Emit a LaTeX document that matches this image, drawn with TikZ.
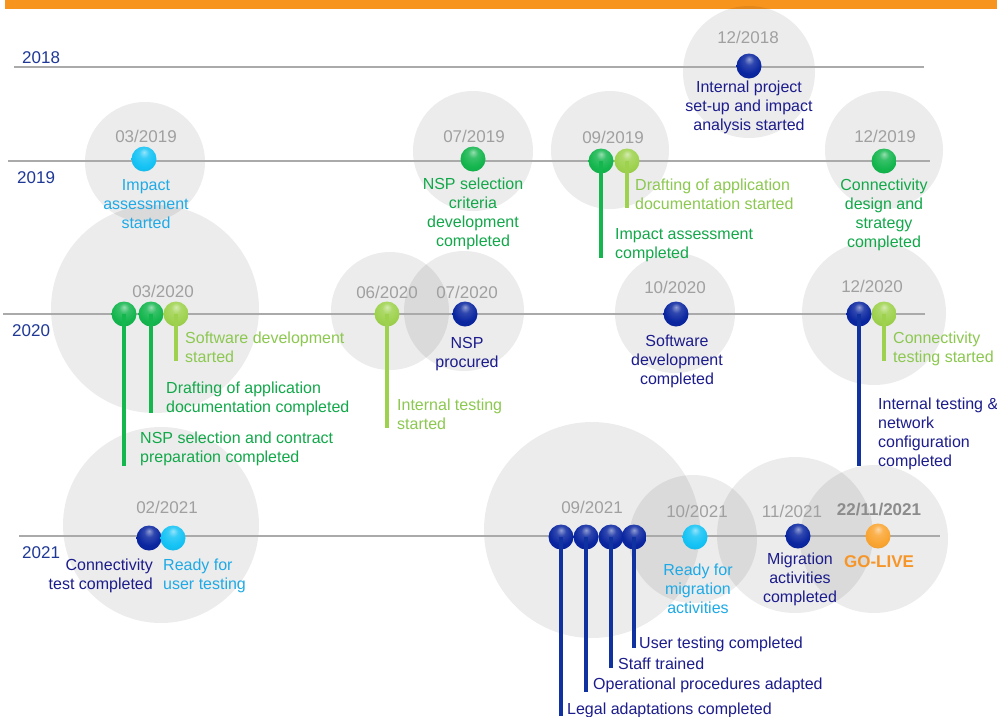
\documentclass[tikz,border=0pt]{standalone}
\usepackage{fontspec}
\setmainfont{Liberation Sans}
\definecolor{barorange}{RGB}{247,148,30}
\definecolor{linegrey}{RGB}{170,170,170}
\definecolor{yearblue}{RGB}{31,56,150}
\definecolor{dategrey}{RGB}{160,160,160}
\definecolor{dategreyd}{RGB}{140,140,140}
\definecolor{navyb}{RGB}{10,38,160}
\definecolor{navyt}{RGB}{28,28,140}
\definecolor{navys}{RGB}{15,50,160}
\definecolor{cyanb}{RGB}{20,195,245}
\definecolor{cyant}{RGB}{30,170,230}
\definecolor{greenb}{RGB}{20,182,78}
\definecolor{greent}{RGB}{18,168,74}
\definecolor{lgreenb}{RGB}{158,210,78}
\definecolor{lgreent}{RGB}{140,200,80}
\definecolor{orangeb}{RGB}{250,165,50}
\definecolor{oranget}{RGB}{247,150,40}
\makeatletter
\pgfdeclareradialshading[tikz@ball]{softball}{\pgfqpoint{0bp}{14bp}}{%
  color(0bp)=(tikz@ball!45!white); color(10bp)=(tikz@ball!85!white);
  color(24bp)=(tikz@ball); color(44bp)=(tikz@ball!90!black);
  color(64bp)=(tikz@ball!65!black)}
\makeatother
\tikzset{
  halo/.style={fill=black, fill opacity=0.075},
  tline/.style={draw=linegrey, line width=1.5pt},
  yr/.style={text=yearblue, font=\fontsize{17}{20}\selectfont, anchor=base west, inner sep=0pt},
  dt/.style={text=dategrey, font=\fontsize{17}{20}\selectfont, anchor=base, inner sep=0pt},
  lbl/.style={font=\fontsize{16}{19}\selectfont, inner sep=0pt, anchor=north, align=center},
  lbll/.style={font=\fontsize{16}{19}\selectfont, inner sep=0pt, anchor=north west, align=left},
  lblr/.style={font=\fontsize{16}{19}\selectfont, inner sep=0pt, anchor=north east, align=right},
  lbls/.style={font=\fontsize{16}{19}\selectfont, inner sep=0pt, anchor=base west},
  bead/.style={circle, inner sep=0pt, minimum size=25pt, ball color=#1, shading=softball},
  stemline/.style={line width=4pt, draw=#1},
}
\begin{document}
\begin{tikzpicture}[x=1pt,y=-1pt]
\useasboundingbox (0,0) rectangle (997,716);
\fill[white] (0,0) rectangle (997,716);
\fill[barorange] (5,0) rectangle (997,9);

% halos
\fill[halo] (749,72) circle (66pt);
\fill[halo] (145,162) circle (60pt);
\fill[halo] (473,151) circle (60pt);
\fill[halo] (610,150) circle (59pt);
\fill[halo] (884,150) circle (59pt);
\fill[halo] (155,309) circle (104pt);
\fill[halo] (390,311) circle (59pt);
\fill[halo] (464,311) circle (60pt);
\fill[halo] (675,313) circle (60pt);
\fill[halo] (874,313) circle (72pt);
\fill[halo] (161,525) circle (98pt);
\fill[halo] (592,530) circle (108pt);
\fill[halo] (693,539) circle (64pt);
\fill[halo] (795,535) circle (78pt);
\fill[halo] (874,539) circle (74pt);

% timelines
\coordinate (l18a) at (14,67);  \coordinate (l18b) at (924,67);
\coordinate (l19a) at (8,161);  \coordinate (l19b) at (930,161);
\coordinate (l20a) at (3,314);  \coordinate (l20b) at (925,314);
\coordinate (l21a) at (19,536); \coordinate (l21b) at (940,536);
\draw[tline] (l18a) -- (l18b);
\draw[tline] (l19a) -- (l19b);
\draw[tline] (l20a) -- (l20b);
\draw[tline] (l21a) -- (l21b);

\node[yr] (y18) at (22,63) {2018};
\node[yr] (y19) at (17,183) {2019};
\node[yr] (y20) at (12,336) {2020};
\node[yr] (y21) at (22,558) {2021};

% dates
\node[dt] (d1218) at (748,43) {12/2018};
\node[dt] (d0319) at (146,142) {03/2019};
\node[dt] (d0719) at (474,142) {07/2019};
\node[dt] (d0919) at (613,143) {09/2019};
\node[dt] (d1219) at (885,142) {12/2019};
\node[dt] (d0320) at (163,297) {03/2020};
\node[dt] (d0620) at (387,298) {06/2020};
\node[dt] (d0720) at (467,298) {07/2020};
\node[dt] (d1020) at (675,293) {10/2020};
\node[dt] (d1220) at (872,292) {12/2020};
\node[dt] (d0221) at (167,513) {02/2021};
\node[dt] (d0921) at (592,513) {09/2021};
\node[dt] (d1021) at (697,517) {10/2021};
\node[dt] (d1121) at (792,517) {11/2021};
\node[dt, text=dategreyd, font=\fontsize{17}{20}\selectfont\bfseries] (dgl) at (879,515) {22/11/2021};

% beads
\node[bead=navyb] (b1218) at (749,66) {};
\node[bead=cyanb] (b0319) at (144,159) {};
\node[bead=greenb] (b0719) at (473,159) {};
\node[bead=greenb] (b0919a) at (601,161) {};
\node[bead=lgreenb] (b0919b) at (627,161) {};
\node[bead=greenb] (b1219) at (884,161) {};
\node[bead=greenb] (b0320a) at (124,314) {};
\node[bead=greenb] (b0320b) at (151,314) {};
\node[bead=lgreenb] (b0320c) at (176,314) {};
\node[bead=lgreenb] (b0620) at (387,314) {};
\node[bead=navyb] (b0720) at (465,314) {};
\node[bead=navyb] (b1020) at (676,314) {};
\node[bead=navyb] (b1220a) at (859,314) {};
\node[bead=lgreenb] (b1220b) at (884,314) {};
\node[bead=navyb] (b0221a) at (149,538) {};
\node[bead=cyanb] (b0221b) at (173,538) {};
\node[bead=navyb] (b0921a) at (561,537) {};
\node[bead=navyb] (b0921b) at (586,537) {};
\node[bead=navyb] (b0921c) at (611,537) {};
\node[bead=navyb] (b0921d) at (634,537) {};
\node[bead=cyanb] (b1021) at (695,537) {};
\node[bead=navyb] (b1121) at (798,536) {};
\node[bead=orangeb] (bgl) at (878,536) {};

% stems
\coordinate (e0919a) at (601,258);
\coordinate (e0919b) at (627,208);
\coordinate (e0320a) at (124,466);
\coordinate (e0320b) at (151,413);
\coordinate (e0320c) at (176,361);
\coordinate (e0620) at (387,428);
\coordinate (e1220a) at (859,466);
\coordinate (e1220b) at (884,361);
\coordinate (e0921a) at (561,716);
\coordinate (e0921b) at (586,692);
\coordinate (e0921c) at (611,668);
\coordinate (e0921d) at (634,648);
\draw[stemline=greenb] (b0919a.center) -- (e0919a);
\draw[stemline=lgreenb] (b0919b.center) -- (e0919b);
\draw[stemline=greenb] (b0320a.center) -- (e0320a);
\draw[stemline=greenb] (b0320b.center) -- (e0320b);
\draw[stemline=lgreenb] (b0320c.center) -- (e0320c);
\draw[stemline=lgreenb] (b0620.center) -- (e0620);
\draw[stemline=navys] (b1220a.center) -- (e1220a);
\draw[stemline=lgreenb] (b1220b.center) -- (e1220b);
\draw[stemline=navys] (b0921a.center) -- (e0921a);
\draw[stemline=navys] (b0921b.center) -- (e0921b);
\draw[stemline=navys] (b0921c.center) -- (e0921c);
\draw[stemline=navys] (b0921d.center) -- (e0921d);

% labels
\node[lbl, text=navyt] (t1218) at (749,80.5) {Internal project\\set-up and impact\\analysis started};
\node[lbl, text=cyant] (t0319) at (146,179.5) {Impact\\assessment\\started};
\node[lbl, text=greent] (t0719) at (473,177.5) {NSP selection\\criteria\\development\\completed};
\node[lbll, text=lgreent] (t0919b) at (635,178.5) {Drafting of application\\documentation started};
\node[lbll, text=greent] (t0919a) at (615,228.5) {Impact assessment\\completed};
\node[lbl, text=greent] (t1219) at (884,178.5) {Connectivity\\design and\\strategy\\completed};
\node[lbll, text=lgreent] (t0320c) at (185,331.5) {Software development\\started};
\node[lbll, text=greent] (t0320b) at (166,381.5) {Drafting of application\\documentation completed};
\node[lbll, text=greent] (t0320a) at (140,431.5) {NSP selection and contract\\preparation completed};
\node[lbll, text=lgreent] (t0620) at (397,398.5) {Internal testing\\started};
\node[lbl, text=navyt] (t0720) at (467,337.5) {NSP\\procured};
\node[lbl, text=navyt] (t1020) at (677,334.5) {Software\\development\\completed};
\node[lbll, text=lgreent] (t1220b) at (893,331.5) {Connectivity\\testing started};
\node[lbll, text=navyt] (t1220a) at (878,397.5) {Internal testing \&\\network\\configuration\\completed};
\node[lblr, text=navyt] (t0221a) at (153,558.5) {Connectivity\\test completed};
\node[lbll, text=cyant] (t0221b) at (163,558.5) {Ready for\\user testing};
\node[lbls, text=navyt] (t0921d) at (639,648) {User testing completed};
\node[lbls, text=navyt] (t0921c) at (618,669) {Staff trained};
\node[lbls, text=navyt] (t0921b) at (593,689) {Operational procedures adapted};
\node[lbls, text=navyt] (t0921a) at (567,714) {Legal adaptations completed};
\node[lbl, text=cyant] (t1021) at (698,563.5) {Ready for\\migration\\activities};
\node[lbl, text=navyt] (t1121) at (800,552.5) {Migration\\activities\\completed};
\node[font=\fontsize{17}{20}\selectfont\bfseries, text=oranget, inner sep=0pt, anchor=base] (tgl) at (879,567) {GO-LIVE};
\end{tikzpicture}
\end{document}
